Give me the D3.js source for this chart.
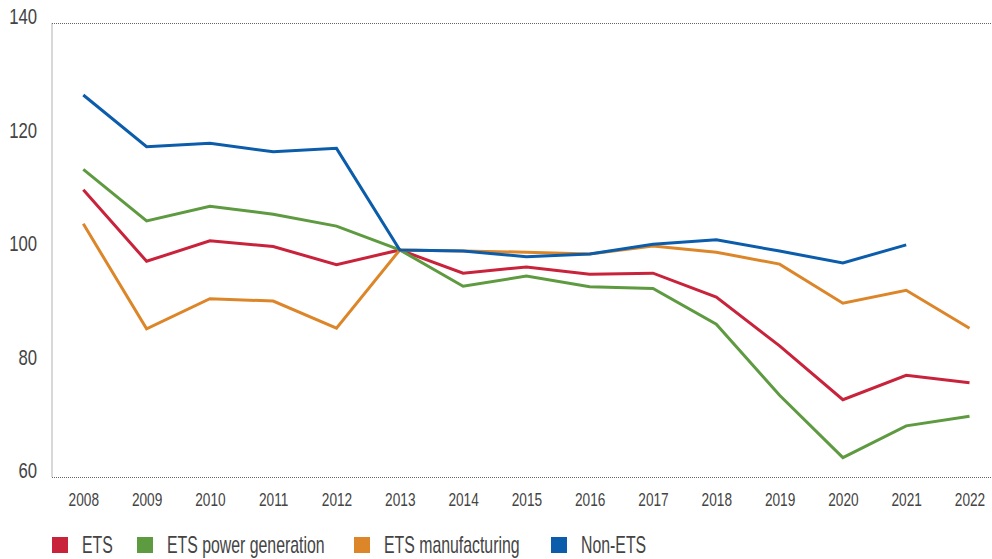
<!DOCTYPE html>
<html>
<head>
<meta charset="utf-8">
<script src="https://cdn.jsdelivr.net/npm/d3@7"></script>
<style>
  body { margin: 0; background: #fff; }
  svg text { font-family: "Liberation Sans", Arial, sans-serif; fill: #444; }
</style>
</head>
<body>
<div id="chart"></div>
<script>
const years = [2008, 2009, 2010, 2011, 2012, 2013, 2014, 2015, 2016, 2017, 2018, 2019, 2020, 2021, 2022];
const ets = [110.7, 98.1, 101.7, 100.7, 97.5, 100.1, 96.0, 97.1, 95.8, 96.0, 91.8, 83.2, 73.7, 78.0, 76.7];
const etsPower = [114.3, 105.2, 107.8, 106.4, 104.3, 100.1, 93.7, 95.5, 93.6, 93.3, 87.0, 74.5, 63.5, 69.1, 70.8];
const etsManufacturing = [104.7, 86.2, 91.5, 91.1, 86.3, 100.1, 99.9, 99.7, 99.4, 100.8, 99.7, 97.6, 90.7, 93.0, 86.3];
const nonEts = [127.4, 118.3, 118.9, 117.4, 118.0, 100.1, 99.9, 98.9, 99.4, 101.1, 101.9, 99.9, 97.8, 101.0, null];
const yTicks = [60, 80, 100, 120, 140];

const series = [
  { name: 'ETS', values: ets, color: '#c9223b' },
  { name: 'ETS power generation', values: etsPower, color: '#5e9a40' },
  { name: 'ETS manufacturing', values: etsManufacturing, color: '#dc8629' },
  { name: 'Non-ETS', values: nonEts, color: '#0b5dab' }
];

const width = 992, height = 559;
const margin = { left: 52, right: 992, top: 23.5, bottom: 477.5 };
// the original uses a condensed face; squeeze a regular one horizontally
const tickSquash = 0.76, legendSquash = 0.66;

const svg = d3.select('#chart').append('svg')
  .attr('width', width)
  .attr('height', height);

const x = d3.scaleLinear().domain([2008, 2022]).range([83.3, 969.5]);
const y = d3.scaleLinear().domain([60, 140]).range([margin.bottom, margin.top]);

/* ---------- frame (dotted) ---------- */
const frame = svg.append('g')
  .attr('stroke', '#666')
  .attr('stroke-width', 1)
  .attr('stroke-dasharray', '1,1')
  .attr('fill', 'none');
frame.append('line').attr('x1', margin.left).attr('x2', margin.right).attr('y1', margin.top).attr('y2', margin.top);
frame.append('line').attr('x1', margin.left).attr('x2', margin.right).attr('y1', margin.bottom).attr('y2', margin.bottom);
frame.append('line').attr('x1', margin.left).attr('x2', margin.left).attr('y1', margin.top).attr('y2', margin.bottom);

/* ---------- y axis ---------- */
const yAxis = d3.axisLeft(y).tickValues(yTicks).tickSize(0);
const yg = svg.append('g').attr('transform', `translate(${margin.left},0)`).call(yAxis);
yg.select('.domain').remove();
yg.selectAll('text')
  .attr('x', -15 / tickSquash)
  .attr('dy', 0)
  .attr('transform', `scale(${tickSquash},1)`)
  .style('font-size', '22px');

/* ---------- x axis ---------- */
const xAxis = d3.axisBottom(x).tickValues(years).tickFormat(d3.format('d')).tickSize(0);
const xg = svg.append('g').attr('transform', `translate(0,${margin.bottom})`).call(xAxis);
xg.select('.domain').remove();
xg.selectAll('text')
  .attr('y', 29)
  .attr('dy', 0)
  .attr('transform', `scale(${tickSquash},1)`)
  .style('font-size', '18px');

/* ---------- lines ---------- */
const line = d3.line()
  .defined(d => d.v != null)
  .x(d => x(d.year))
  .y(d => y(d.v));

svg.append('g').selectAll('path')
  .data(series)
  .enter().append('path')
  .attr('fill', 'none')
  .attr('stroke', d => d.color)
  .attr('stroke-width', 3)
  .attr('d', d => line(years.map((yr, i) => ({ year: yr, v: d.values[i] }))));

/* ---------- legend ---------- */
const legendX = [52, 137, 354, 551];
const legend = svg.append('g').selectAll('g')
  .data(series)
  .enter().append('g')
  .attr('transform', (d, i) => `translate(${legendX[i]},537)`);
legend.append('rect')
  .attr('width', 16).attr('height', 16)
  .attr('fill', d => d.color);
legend.append('text')
  .attr('transform', `translate(30,16) scale(${legendSquash},1)`)
  .style('font-size', '24px')
  .text(d => d.name);
</script>
</body>
</html>
